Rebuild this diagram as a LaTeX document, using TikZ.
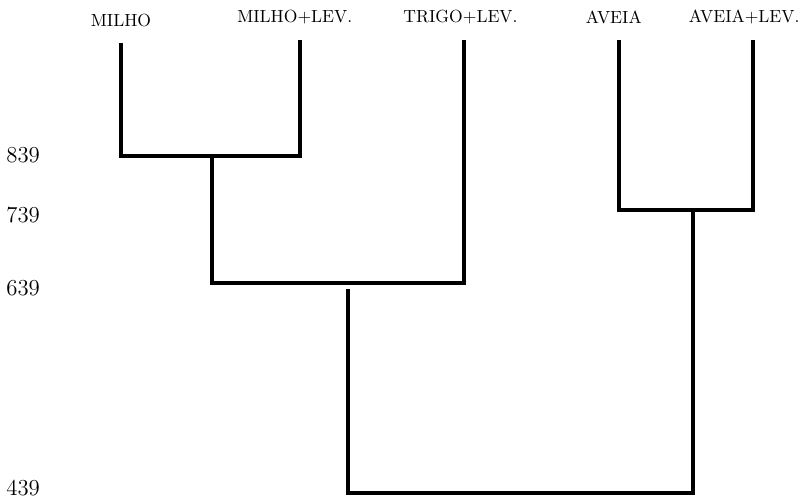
\documentclass[tikz,border=0pt]{standalone}
\usetikzlibrary{positioning}
\tikzset{
  taxon/.style={inner sep=0pt, font=\fontsize{10}{12}\selectfont},
  level/.style={inner sep=0pt, anchor=west, font=\fontsize{13}{15}\selectfont},
  branch/.style={line width=2.5pt},
  lowbranch/.style={line width=2pt}
}
\begin{document}
\begin{tikzpicture}[x=0.02cm, y=-0.02cm, node distance=9pt]
\useasboundingbox (0,0) rectangle (802,499);
% leaf tops
\coordinate (milhoTop) at (121,43);
\coordinate (mlevTop) at (300,40);
\coordinate (trigoTop) at (464,40);
\coordinate (aveiaTop) at (619,40);
\coordinate (alevTop) at (753,40);
% taxa
\node[taxon, above=of milhoTop] (milho) {MILHO};
\node[taxon, above=of mlevTop, xshift=-3pt] (mlev) {MILHO+LEV.};
\node[taxon, above=of trigoTop, xshift=-2pt] (trigo) {TRIGO+LEV.};
\node[taxon, above=of aveiaTop, xshift=-3pt] (aveia) {AVEIA};
\node[taxon, above=of alevTop, xshift=-5pt] (alev) {AVEIA+LEV.};
% joins
\coordinate (j839) at (212,156);
\coordinate (j639) at (348,283);
\coordinate (s639) at (348,289);
\coordinate (j739) at (693,210);
\coordinate (root) at (520,493);
% levels
\node[level] (l839) at (6,155) {839};
\node[level] (l739) at (6,215) {739};
\node[level] (l639) at (6,288) {639};
\node[level] (l439) at (6,488) {439};
% tree
\draw[branch] (milhoTop) |- (j839) -| (mlevTop);
\draw[branch] (j839) |- (j639) -| (trigoTop);
\draw[branch] (aveiaTop) |- (j739) -| (alevTop);
\draw[lowbranch] (s639) |- (root) -| (j739);
\end{tikzpicture}
\end{document}
